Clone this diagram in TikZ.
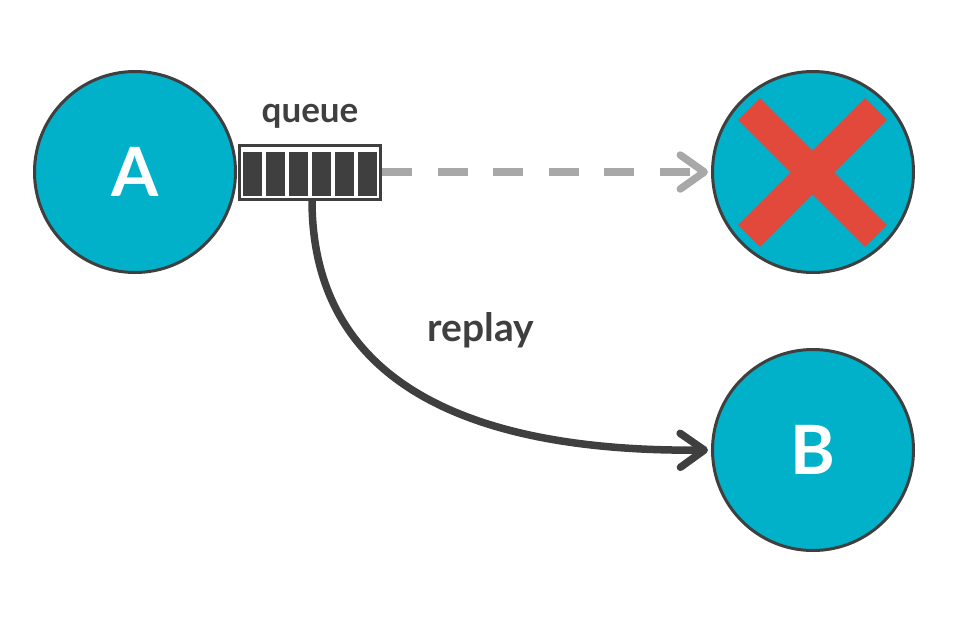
\documentclass[tikz,border=0pt]{standalone}
\usepackage{fontspec}
\setmainfont{Lato}
\usetikzlibrary{arrows.meta}
\definecolor{teal}{HTML}{00B1C9}
\definecolor{dark}{HTML}{3F3F3F}
\definecolor{light}{HTML}{A8A8A8}
\definecolor{cross}{HTML}{E2493A}
\tikzstyle{actor}=[circle,fill=teal,draw=dark,line width=3pt,minimum size=201pt,inner sep=0pt,text=white,font=\fontsize{68}{68}\selectfont\bfseries]
\tikzstyle{cell}=[rectangle,fill=dark,minimum width=19pt,minimum height=44pt,inner sep=0pt]
\tikzstyle{label}=[text=dark,font=\bfseries]
\tikzstyle{tip}=[-{Straight Barb[round,length=24pt,width=34pt]},shorten >=3pt,line width=7.5pt]

\begin{document}
\begin{tikzpicture}[x=1pt,y=-1pt]
    \useasboundingbox (0,0) rectangle (974,622);
    \node[actor] (A) at (135,172) {A};
    \node[actor] (X) at (813,172) {};
    \node[actor] (B) at (813,450) {B};
    \node[rectangle,draw=dark,fill=white,line width=3pt,minimum width=141pt,minimum height=54pt,inner sep=0pt] (queue) at (310,172) {};
    \foreach \i in {0,...,5}
    \node[cell] (c\i) at (252.5+23*\i,174) {};
    \node[label,font=\fontsize{35}{35}\selectfont\bfseries] (qlabel) at (310,116) {queue};
    \node[label,font=\fontsize{39}{39}\selectfont\bfseries] (rlabel) at (481,330) {replay};

    \draw[cross,line width=31pt] (749,109) -- (876,236);
    \draw[cross,line width=31pt] (876,109) -- (749,236);

    \draw[light,tip,dash pattern=on 30pt off 25.5pt] (queue.east) -- (X.west);
    \draw[dark,tip] (312,200) .. controls (312,400) and (500,452) .. (B.west);
\end{tikzpicture}
\end{document}
